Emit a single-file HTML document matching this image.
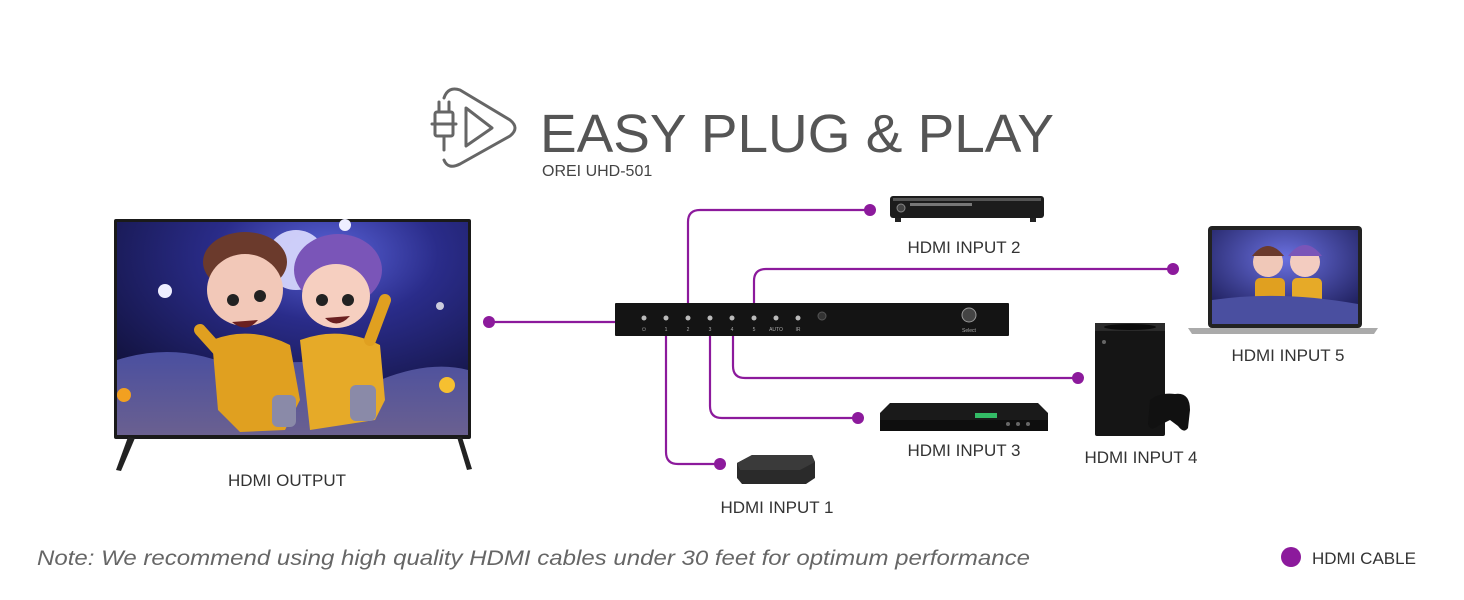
<!DOCTYPE html>
<html><head><meta charset="utf-8"><style>
html,body{margin:0;padding:0;background:#fff;}
svg{display:block;}
text{font-family:"Liberation Sans",sans-serif;}
</style></head><body>
<svg width="1464" height="600" viewBox="0 0 1464 600" xmlns="http://www.w3.org/2000/svg">
<defs>
<radialGradient id="sky" cx="0.6" cy="0.15" r="0.9">
<stop offset="0" stop-color="#5a63d8"/><stop offset="0.35" stop-color="#2a2c8a"/><stop offset="1" stop-color="#0c0c2c"/>
</radialGradient>
<linearGradient id="ground" x1="0" y1="0" x2="0" y2="1">
<stop offset="0" stop-color="#4a4fa0"/><stop offset="1" stop-color="#6a6090"/>
</linearGradient>
<radialGradient id="lap" cx="0.5" cy="0.3" r="0.8">
<stop offset="0" stop-color="#6a70e0"/><stop offset="1" stop-color="#14144a"/>
</radialGradient>
</defs>

<!-- icon -->
<g fill="none" stroke="#666" stroke-width="3" stroke-linejoin="round" stroke-linecap="round">
<path d="M444 98 Q448 86 460 90 L510 120 Q520 128 510 136 L460 164 Q448 170 444 160"/>
<path d="M466 108 L492 128 L466 146 Z"/>
<rect x="435" y="112" width="18" height="24" rx="2"/>
<path d="M439 112 V102 M449 112 V102 M444 136 V150 M432 124 H456"/>
</g>
<text x="540" y="152" font-size="54" fill="#555" textLength="514" lengthAdjust="spacingAndGlyphs">EASY PLUG &amp; PLAY</text>
<text x="542" y="176" font-size="16" fill="#444">OREI UHD-501</text>

<!-- TV -->
<rect x="114" y="219" width="357" height="220" fill="#1a1a1a" rx="2"/>
<rect x="117" y="222" width="351" height="213" fill="url(#sky)"/>
<circle cx="296" cy="260" r="30" fill="#dcdcff" opacity="0.9"/>
<circle cx="165" cy="291" r="7" fill="#eef"/>
<circle cx="345" cy="225" r="6" fill="#eef"/>
<circle cx="440" cy="306" r="4" fill="#ccd"/>
<path d="M117 360 Q180 340 240 370 Q320 350 380 380 Q430 360 468 370 V435 H117 Z" fill="url(#ground)"/>
<circle cx="124" cy="395" r="7" fill="#f2a020"/>
<circle cx="447" cy="385" r="8" fill="#f6c030"/>
<!-- kids -->
<ellipse cx="245" cy="262" rx="42" ry="30" fill="#6b3a2c"/>
<ellipse cx="245" cy="290" rx="38" ry="36" fill="#f2c8b8"/>
<ellipse cx="338" cy="270" rx="44" ry="36" fill="#7a55b8"/>
<ellipse cx="336" cy="296" rx="34" ry="32" fill="#f6cfc0"/>
<circle cx="233" cy="300" r="6" fill="#222"/><circle cx="260" cy="296" r="6" fill="#222"/>
<circle cx="322" cy="300" r="6" fill="#222"/><circle cx="348" cy="300" r="6" fill="#222"/>
<path d="M232 322 Q246 334 258 320Z" fill="#6a2020"/><path d="M325 318 Q337 330 350 316Z" fill="#6a2020"/>
<path d="M212 340 Q250 325 290 345 L300 400 L285 430 L240 432 L218 410 Z" fill="#e0a020"/>
<path d="M300 340 Q340 325 380 345 L385 400 L375 420 L310 430 Z" fill="#e6aa28"/>
<path d="M200 330 L218 350 M385 300 L370 340" stroke="#e0a020" stroke-width="12" stroke-linecap="round"/>
<rect x="272" y="395" width="24" height="32" rx="6" fill="#8a8aa8"/><rect x="350" y="385" width="26" height="36" rx="6" fill="#8a8aa8"/>
<!-- stand -->
<path d="M128 437 L116 470 L121 471 L135 438 Z" fill="#222"/>
<path d="M457 437 L467 470 L472 469 L462 437 Z" fill="#222"/>

<!-- cables -->
<g fill="none" stroke="#8c1a9c" stroke-width="2.2">
<path d="M489 322 H615"/>
<path d="M688 303 V222 Q688 210 700 210 H870"/>
<path d="M754 303 V281 Q754 269 766 269 H1173"/>
<path d="M733 336 V366 Q733 378 745 378 H1078"/>
<path d="M710 336 V406 Q710 418 722 418 H858"/>
<path d="M666 336 V452 Q666 464 678 464 H720"/>
</g>
<g fill="#8c1a9c">
<circle cx="489" cy="322" r="6"/><circle cx="870" cy="210" r="6"/><circle cx="1173" cy="269" r="6"/>
<circle cx="1078" cy="378" r="6"/><circle cx="858" cy="418" r="6"/><circle cx="720" cy="464" r="6"/>
<circle cx="1291" cy="557" r="10"/>
</g>

<!-- switcher -->
<rect x="615" y="303" width="394" height="33" fill="#141414" rx="1"/>
<g fill="#bbb">
<circle cx="644" cy="318" r="2.5"/><circle cx="666" cy="318" r="2.5"/><circle cx="688" cy="318" r="2.5"/>
<circle cx="710" cy="318" r="2.5"/><circle cx="732" cy="318" r="2.5"/><circle cx="754" cy="318" r="2.5"/>
<circle cx="776" cy="318" r="2.5"/><circle cx="798" cy="318" r="2.5"/>
</g>
<circle cx="822" cy="316" r="4" fill="#333" stroke="#555"/>
<circle cx="969" cy="315" r="7" fill="#444" stroke="#999"/>
<g fill="#aaa" font-size="5" text-anchor="middle">
<text x="644" y="331">⏻</text><text x="666" y="331">1</text><text x="688" y="331">2</text><text x="710" y="331">3</text>
<text x="732" y="331">4</text><text x="754" y="331">5</text><text x="776" y="331">AUTO</text><text x="798" y="331">IR</text>
<text x="969" y="332">Select</text>
</g>

<!-- DVD player (input 2) -->
<rect x="890" y="196" width="154" height="22" rx="3" fill="#1c1c1c"/>
<rect x="893" y="198" width="148" height="3" fill="#555"/>
<rect x="910" y="203" width="62" height="3" fill="#777"/>
<circle cx="901" cy="208" r="4" fill="#444" stroke="#888"/>
<rect x="895" y="218" width="6" height="4" fill="#222"/><rect x="1030" y="218" width="6" height="4" fill="#222"/>

<!-- laptop (input 5) -->
<rect x="1208" y="226" width="154" height="102" rx="4" fill="#222"/>
<rect x="1212" y="230" width="146" height="94" fill="url(#lap)"/>
<circle cx="1268" cy="262" r="15" fill="#f0c8b8"/><circle cx="1305" cy="262" r="15" fill="#f3ccc0"/>
<path d="M1252 256 Q1268 236 1284 256Z" fill="#6b3a2c"/><path d="M1288 256 Q1305 234 1322 256Z" fill="#7a55b8"/>
<rect x="1255" y="278" width="30" height="30" rx="5" fill="#e0a020"/><rect x="1292" y="278" width="30" height="30" rx="5" fill="#e6aa28"/>
<path d="M1212 300 Q1280 290 1358 304 V324 H1212Z" fill="#4a4fa0"/>
<path d="M1188 328 H1378 L1374 334 H1192 Z" fill="#aaa"/>

<!-- xbox (input 4) -->
<rect x="1095" y="323" width="70" height="113" rx="2" fill="#151515"/>
<rect x="1095" y="323" width="70" height="8" fill="#2a2a2a"/>
<ellipse cx="1130" cy="327" rx="26" ry="3" fill="#0a0a0a"/>
<circle cx="1104" cy="342" r="2" fill="#666"/>
<path d="M1150 400 Q1160 392 1175 394 Q1190 392 1190 410 L1188 428 Q1184 434 1178 426 L1170 420 L1158 426 Q1150 432 1148 424 Z" fill="#111"/>

<!-- bluray (input 3) -->
<path d="M880 413 L890 403 H1038 L1048 413 V431 H880 Z" fill="#1a1a1a"/>
<rect x="880" y="420" width="168" height="11" fill="#0e0e0e"/>
<rect x="975" y="413" width="22" height="5" fill="#3b6"/>
<circle cx="1008" cy="424" r="2" fill="#666"/><circle cx="1018" cy="424" r="2" fill="#666"/><circle cx="1028" cy="424" r="2" fill="#666"/>

<!-- streaming box (input 1) -->
<path d="M737 463 L752 455 H812 L815 462 V478 L806 484 H742 L737 478 Z" fill="#2a2a2a"/>
<path d="M737 463 L752 455 H812 L815 462 L800 470 H740 Z" fill="#3a3a3a"/>

<!-- labels -->
<g font-size="17" fill="#333" text-anchor="middle">
<text x="964" y="253">HDMI INPUT 2</text>
<text x="1288" y="361">HDMI INPUT 5</text>
<text x="1141" y="463">HDMI INPUT 4</text>
<text x="964" y="456">HDMI INPUT 3</text>
<text x="777" y="513">HDMI INPUT 1</text>
<text x="287" y="486">HDMI OUTPUT</text>
</g>
<text x="37" y="565" font-size="21" font-style="italic" fill="#666" textLength="993" lengthAdjust="spacingAndGlyphs">Note: We recommend using high quality HDMI cables under 30 feet for optimum performance</text>
<text x="1312" y="564" font-size="17" fill="#333">HDMI CABLE</text>
</svg>
</body></html>
